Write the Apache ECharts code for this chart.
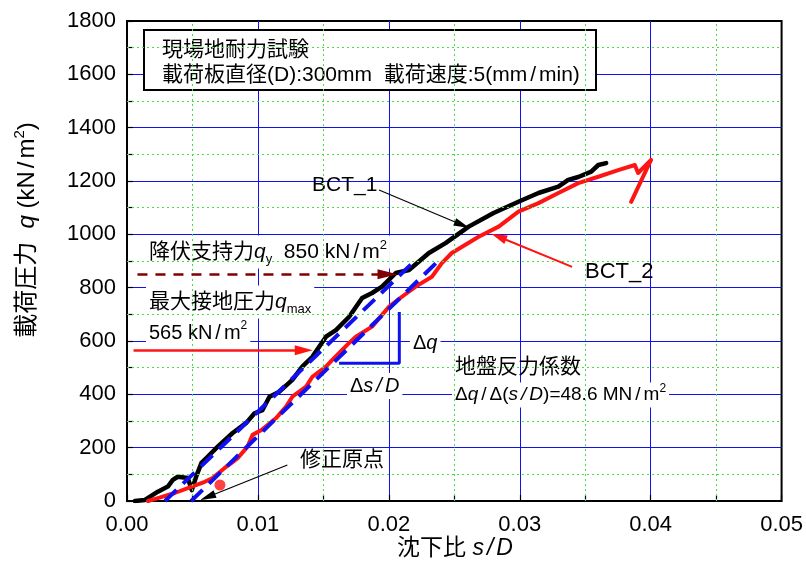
<!DOCTYPE html>
<html><head><meta charset="utf-8">
<script src="https://cdn.jsdelivr.net/npm/echarts@6/dist/echarts.min.js"></script>
<style>html,body{margin:0;padding:0;background:#fff}#c{width:806px;height:574px}</style>
</head><body><div id="c"></div>
<script>
// ---- data (s/D, q kN/m2) ----
const bct1S = [0.0006,0.00137,0.00236,0.00312,0.0035,0.00388,0.00464,0.00495,0.00533,0.00569,0.00616,0.00693,0.00807,0.00911,0.00974,0.01035,0.01088,0.01164,0.01263,0.01339,0.01416,0.0152,0.01596,0.01697,0.01796,0.01872,0.01948,0.02053,0.02154,0.02306,0.02433,0.0261,0.028,0.0299,0.03143,0.03295,0.0337,0.03447,0.03546,0.036,0.0366];
const bct1Q = [0,4,35,54,79,91,86,41,98,143,166,204,255,293,329,341,391,410,454,504,541,616,641,691,761,780,804,855,866,930,967,1029,1080,1122,1155,1179,1204,1215,1235,1260,1267];
const bct2S = [0.0016,0.00236,0.00365,0.00495,0.00594,0.00654,0.00746,0.00799,0.00845,0.00921,0.00959,0.01027,0.01139,0.01215,0.01263,0.01368,0.01416,0.0152,0.01568,0.01621,0.01697,0.01748,0.01872,0.02002,0.021,0.02205,0.02329,0.02405,0.02481,0.02686,0.02839,0.0299,0.03143,0.03295,0.03447,0.036,0.03752,0.03879,0.03904,0.04003,0.03942,0.03851];
const bct2Q = [0,11,30,54,72,86,124,143,161,204,248,266,311,354,391,429,466,504,529,555,593,616,654,729,766,804,841,892,930,991,1029,1085,1117,1155,1192,1216,1241,1260,1230,1279,1216,1122];
const fit1S = [0.0029,0.0218];
const fit1Q = [0,892];
const fit2S = [0.0049,0.0236];
const fit2Q = [0,892];
const originS = [0.0071];
const originQ = [60];
const triS = [0.0162,0.0208,0.0208];
const triQ = [517,517,709];
const qYield = 850;
const qMax = 565;
const xMin = 0, xMax = 0.05, xMajor = 0.01, xMinor = 0.005;
const yMin = 0, yMax = 1800, yMajor = 200, yMinor = 100;

const zip = (a,b) => a.map((v,i)=>[v,b[i]]);
const LAT = "'Liberation Sans','Noto Sans CJK JP',sans-serif";
const RED = '#ff1414', DRED = '#800000', BLUE = '#1010f0', GREEN = '#44dd44';

// minor (dotted) grid positions between major ticks
const xMinorLines = [], yMinorLines = [];
for (let k = 1; k * xMinor < xMax - 1e-9; k += 2) xMinorLines.push(+(k * xMinor).toFixed(4));
for (let k = 1; k * yMinor < yMax - 1e-9; k += 2) yMinorLines.push(k * yMinor);

const chart = echarts.init(document.getElementById('c'), null, {renderer:'canvas'});

function arrow(p1, p2, color, width, size, dash) {
  return [
    {coord:p1, symbol:'none', lineStyle:{color:color, width:width, type:dash||'solid'}},
    {coord:p2, symbol:'triangle', symbolSize:size}
  ];
}

const txt = (x,y,text,rich,extra) => Object.assign({
  type:'text', x:x, y:y, z:5,
  style:Object.assign({text:text, rich:rich, verticalAlign:'middle', align:'left', font:'20px '+LAT}, extra||{})
});

function richSet(size, color) {
  return {
    a:{fontSize:size, fontFamily:LAT, color:color, lineHeight:size+6},
    i:{fontSize:size, fontFamily:LAT, color:color, fontStyle:'italic', lineHeight:size+6},
    sl:{fontSize:size, fontFamily:LAT, color:color, lineHeight:size+6, padding:[0,3,0,3]},
    isl:{fontSize:size, fontFamily:LAT, color:color, fontStyle:'italic', lineHeight:size+6, padding:[0,3,0,3]},
    sub:{fontSize:Math.round(size*0.62), fontFamily:LAT, color:color, verticalAlign:'bottom', lineHeight:size+2},
    sup:{fontSize:Math.round(size*0.62), fontFamily:LAT, color:color, verticalAlign:'top', lineHeight:size+2}
  };
}

const option = {
  animation:false,
  backgroundColor:'#fff',
  grid:{left:127, right:23, top:21, bottom:73, show:true, borderColor:'#000', borderWidth:2, backgroundColor:'transparent'},
  xAxis:[
    {type:'value', min:xMin, max:xMax, interval:xMinor, position:'bottom',
      axisLine:{show:true, onZero:false, lineStyle:{color:'#000', width:1.5}},
      axisTick:{show:true, inside:true, length:6, lineStyle:{color:'#000', width:1.2}},
      splitLine:{show:false},
      axisLabel:{formatter:v => (Math.round(v/xMinor) % 2 === 0 ? v.toFixed(2) : ''), fontSize:22, color:'#000', margin:13, fontFamily:LAT}},
    {type:'value', min:xMin, max:xMax, interval:xMajor, position:'top',
      axisLine:{show:false}, axisTick:{show:false}, axisLabel:{show:false},
      splitLine:{show:true, showMinLine:false, showMaxLine:false, lineStyle:{color:BLUE, width:1}}}
  ],
  yAxis:[
    {type:'value', min:yMin, max:yMax, interval:yMinor, position:'left',
      axisLine:{show:true, onZero:false, lineStyle:{color:'#000', width:1.5}},
      axisTick:{show:true, inside:true, length:6, lineStyle:{color:'#000', width:1.2}},
      splitLine:{show:false},
      axisLabel:{formatter:v => (Math.round(v/yMinor) % 2 === 0 ? String(v) : ''), fontSize:22, color:'#000', margin:11, fontFamily:LAT}},
    {type:'value', min:yMin, max:yMax, interval:yMajor, position:'right',
      axisLine:{show:false}, axisTick:{show:false}, axisLabel:{show:false},
      splitLine:{show:true, showMinLine:false, showMaxLine:false, lineStyle:{color:BLUE, width:1}}}
  ],
  series:[
    {type:'line', name:'minorGrid', data:[], z:1,
     markLine:{silent:true, animation:false, precision:5, symbol:['none','none'], label:{show:false},
       lineStyle:{color:GREEN, width:1, type:[2,3]},
       data: xMinorLines.map(v=>({xAxis:v})).concat(yMinorLines.map(v=>({yAxis:v})))}},
    {type:'line', name:'BCT_1', data:zip(bct1S,bct1Q), showSymbol:false, z:4,
     lineStyle:{color:'#000', width:4.5, cap:'round', join:'round'}},
    {type:'line', name:'BCT_2', data:zip(bct2S,bct2Q), showSymbol:false, z:4,
     lineStyle:{color:RED, width:4, cap:'round', join:'round'}},
    {type:'line', name:'fit1', data:zip(fit1S,fit1Q), showSymbol:false, z:6,
     lineStyle:{color:BLUE, width:4, type:[16,9]}},
    {type:'line', name:'fit2', data:zip(fit2S,fit2Q), showSymbol:false, z:6,
     lineStyle:{color:BLUE, width:4, type:[16,9]}},
    {type:'scatter', name:'origin', data:zip(originS,originQ), symbol:'circle', symbolSize:11, z:7,
     itemStyle:{color:RED}},
    {type:'line', name:'tri', data:zip(triS,triQ), showSymbol:false, z:6,
     lineStyle:{color:BLUE, width:3}},
    {type:'line', name:'arrows', data:[], z:8,
     markLine:{silent:true, animation:false, precision:5, label:{show:false}, symbol:['none','triangle'],
       data:[
         arrow([0.0008,qYield],[0.0199,qYield], DRED, 2.5, [10,20], [10,8]),
         arrow([0.0005,qMax],[0.0135,qMax], RED, 2.5, [10,18]),
         arrow([0.01925,1166],[0.0256,1035], '#000', 1.2, [8,16]),
         arrow([0.0340,878],[0.02839,991], RED, 2, [9,16]),
         arrow([0.01225,135],[0.00616,15], '#000', 1.2, [8,16])
       ]}}
  ],
  graphic:[
    {type:'rect', z:5, shape:{x:144,y:30,width:452,height:60}, style:{fill:'#fff', stroke:'#000', lineWidth:2}},
    txt(162,50,'{a|現場地耐力試験}', richSet(21,'#000')),
    txt(162,75,'{a|載荷板直径(D):300mm  載荷速度:5(mm}{sl|/}{a|min)}', richSet(21,'#000')),
    txt(146,252,'{a|降伏支持力}{i|q}{sub|y}{a|  850 kN}{sl|/}{a|m}{sup|2}', richSet(21,DRED), {backgroundColor:'#fff', padding:[3,3,3,3]}),
    txt(146,302,'{a|最大接地圧力}{i|q}{sub|max}', richSet(21,RED), {backgroundColor:'#fff', padding:[3,3,3,3]}),
    txt(146,333,'{a|565 kN}{sl|/}{a|m}{sup|2}', richSet(20,RED), {backgroundColor:'#fff', padding:[2,3,2,3]}),
    txt(312,185,'{a|BCT_1}', richSet(21,'#000')),
    txt(585,272,'{a|BCT_2}', richSet(22,RED)),
    txt(410,343,'{a|Δ}{i|q}', richSet(20,'#000'), {backgroundColor:'#fff', padding:[0,3,0,3]}),
    txt(347,386,'{a|Δ}{i|s}{isl|/}{i|D}', richSet(20,'#000'), {backgroundColor:'#fff', padding:[0,3,0,3]}),
    txt(455,367,'{a|地盤反力係数}', richSet(21,'#000')),
    txt(452,395,'{a|Δ}{i|q}{sl|/}{a|Δ(}{i|s}{isl|/}{i|D}{a|)=48.6 MN}{sl|/}{a|m}{sup|2}', richSet(19,'#000'), {backgroundColor:'#fff', padding:[0,3,0,3]}),
    txt(300,460,'{a|修正原点}', richSet(21,'#000')),
    {type:'text', z:5, x:27, y:230, rotation:Math.PI/2,
     style:{text:'{a|載荷圧力  }{i|q}{a| (kN}{sl|/}{a|m}{sup|2}{a|)}', rich:richSet(24,'#000'), align:'center', verticalAlign:'middle'}},
    {type:'text', z:5, x:455, y:549,
     style:{text:'{a|沈下比 }{i|s}{isl|/}{i|D}', rich:richSet(23,'#000'), align:'center', verticalAlign:'middle'}}
  ]
};
chart.setOption(option);
</script>
</body></html>
